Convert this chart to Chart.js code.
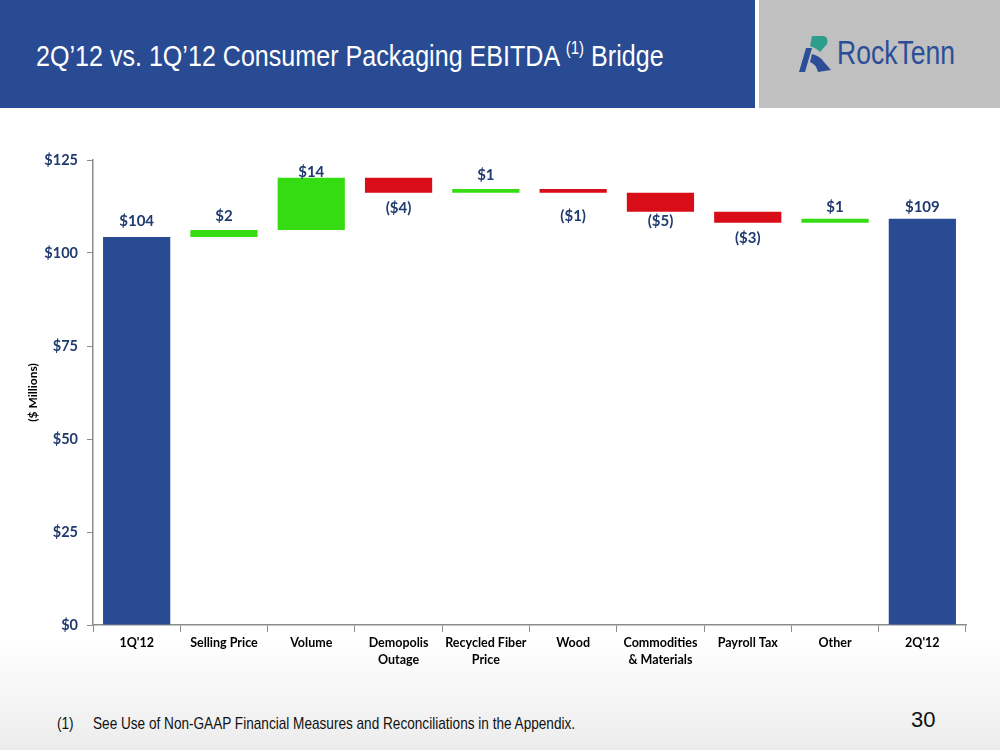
<!DOCTYPE html>
<html>
<head>
<meta charset="utf-8">
<script src="https://cdn.jsdelivr.net/npm/chart.js@4.4.1/dist/chart.umd.min.js"></script>
<style>
  html, body { margin: 0; padding: 0; }
  body { width: 1000px; height: 750px; position: relative; overflow: hidden; background: #ffffff; font-family: "Liberation Sans", Arial, sans-serif; }
  #swoosh { position: absolute; left: 0; top: 640px; width: 1000px; height: 110px;
    background: linear-gradient(180deg, rgba(255,255,255,1) 0%, rgba(236,236,236,1) 100%); }
  #band { position: absolute; left: 0; top: 0; width: 755px; height: 108px; background: #284B93; }
  #greybox { position: absolute; left: 759px; top: 0; width: 241px; height: 108px; background: #C0C0C0; }
  .narrow { transform-origin: 0 0; white-space: nowrap; }
  #title { position: absolute; left: 36px; top: 39px; color: #fff; font-size: 30px; transform: scaleX(0.836); }
  #title sup { font-size: 18px; vertical-align: 12px; line-height: 0; }
  #logoText { position: absolute; left: 837px; top: 33px; color: #2C4E98; font-size: 34px; transform: scaleX(0.78); }
  #logoIcon { position: absolute; left: 798px; top: 34px; }
  #chartWrap { position: absolute; left: 0; top: 130px; width: 1000px; height: 570px; }
  #foot1 { position: absolute; left: 57px; top: 714px; font-size: 17px; color: #111; transform: scaleX(0.8); }
  #foot2 { position: absolute; left: 93px; top: 714px; font-size: 17px; color: #111; transform: scaleX(0.8); }
  #pageNum { position: absolute; left: 911px; top: 707px; font-size: 22px; color: #111; }
</style>
</head>
<body>
<div id="swoosh"></div>
<div id="band"></div>
<div id="greybox"></div>
<div id="title" class="narrow">2Q’12 vs. 1Q’12 Consumer Packaging EBITDA <sup>(1)</sup> Bridge</div>
<svg id="logoIcon" width="36" height="40" viewBox="0 0 36 40">
  <path d="M14 2 L26 2 Q31 4 29 10 L22 18 Q18 14 12 12 Z" fill="#2E9E8C"/>
  <path d="M8 14 L14 14 L7 38 L1 38 Z" fill="#2C4E98"/>
  <path d="M14 20 Q22 22 26 28 L33 36 L20 38 Q18 30 12 28 Z" fill="#2C4E98"/>
</svg>
<div id="logoText" class="narrow">RockTenn</div>
<div id="chartWrap"><canvas id="c"></canvas></div>
<div id="foot1" class="narrow">(1)</div>
<div id="foot2" class="narrow">See Use of Non-GAAP Financial Measures and Reconciliations in the Appendix.</div>
<div id="pageNum">30</div>
<script>
// ---- data ----
const categories = [["1Q'12"], ["Selling Price"], ["Volume"], ["Demopolis", "Outage"], ["Recycled Fiber", "Price"], ["Wood"], ["Commodities", "& Materials"], ["Payroll Tax"], ["Other"], ["2Q'12"]];
const barLows  = [0,     104.3, 106.2, 116.2, 116.2, 116.2, 111.1, 108.1, 108.1, 0];
const barHighs = [104.3, 106.2, 120.2, 120.2, 117.2, 117.2, 116.2, 111.1, 109.2, 109.2];
const barKinds = ["total", "up", "up", "down", "up", "down", "down", "down", "up", "total"];
const valueLabels = ["$104", "$2", "$14", "($4)", "$1", "($1)", "($5)", "($3)", "$1", "$109"];
const yTickValues = [0, 25, 50, 75, 100, 125];

// ---- styles ----
const kindColors = { total: "#284B93", up: "#35DC12", down: "#D90D17" };
const labelGap = [16, 14, 6, 15, 14, 23, 9, 15, 12, 12];
const navy = "#1F3A6E";

const floating = barLows.map((lo, i) => [lo, barHighs[i]]);

const labelPlugin = {
  id: "valueLabels",
  afterDatasetsDraw(chart) {
    const ctx = chart.ctx;
    const meta = chart.getDatasetMeta(0);
    const y = chart.scales.y;
    ctx.save();
    ctx.font = "bold 15px Lato, 'Open Sans', sans-serif";
    ctx.fillStyle = navy;
    ctx.textAlign = "center";
    ctx.textBaseline = "middle";
    meta.data.forEach((bar, i) => {
      const kind = barKinds[i];
      let py;
      if (kind === "down") {
        py = y.getPixelForValue(barLows[i]) + labelGap[i];
      } else {
        py = y.getPixelForValue(barHighs[i]) - labelGap[i];
      }
      ctx.fillText(valueLabels[i], bar.x, py);
    });
    ctx.restore();
  }
};

new Chart(document.getElementById("c"), {
  type: "bar",
  data: {
    labels: categories,
    datasets: [{
      data: floating,
      backgroundColor: barKinds.map(k => kindColors[k]),
      borderWidth: 0,
      categoryPercentage: 1.0,
      barPercentage: 0.77
    }]
  },
  options: {
    responsive: true,
    maintainAspectRatio: false,
    animation: false,
    layout: { padding: { top: 30, right: 34, left: 0, bottom: 0 } },
    plugins: { legend: { display: false }, tooltip: { enabled: false } },
    scales: {
      x: {
        grid: { drawOnChartArea: false, drawTicks: true, tickLength: 7, color: "#8C8C8C", offset: true },
        border: { color: "#8C8C8C", width: 1.5 },
        ticks: { color: "#000", font: { family: "Lato, 'Open Sans', sans-serif", weight: "bold", size: 12.5, lineHeight: 1.4 }, padding: 2, maxRotation: 0, autoSkip: false },
        afterFit: (s) => { s.height = 75; }
      },
      y: {
        min: 0, max: 125,
        afterBuildTicks: (s) => { s.ticks = yTickValues.map(v => ({ value: v })); },
        grid: { drawOnChartArea: false, drawTicks: true, tickLength: 6, color: "#8C8C8C" },
        border: { color: "#8C8C8C", width: 1.5 },
        ticks: { color: navy, font: { family: "Lato, 'Open Sans', sans-serif", weight: "bold", size: 14.5 }, padding: 9, callback: (v) => "$" + v },
        title: { display: true, text: "($ Millions)", color: "#000", font: { family: "Lato, 'Open Sans', sans-serif", weight: "bold", size: 12 }, padding: { top: 26, bottom: 0 } },
        afterFit: (s) => { s.width = 93; }
      }
    }
  },
  plugins: [labelPlugin]
});
</script>
</body>
</html>
